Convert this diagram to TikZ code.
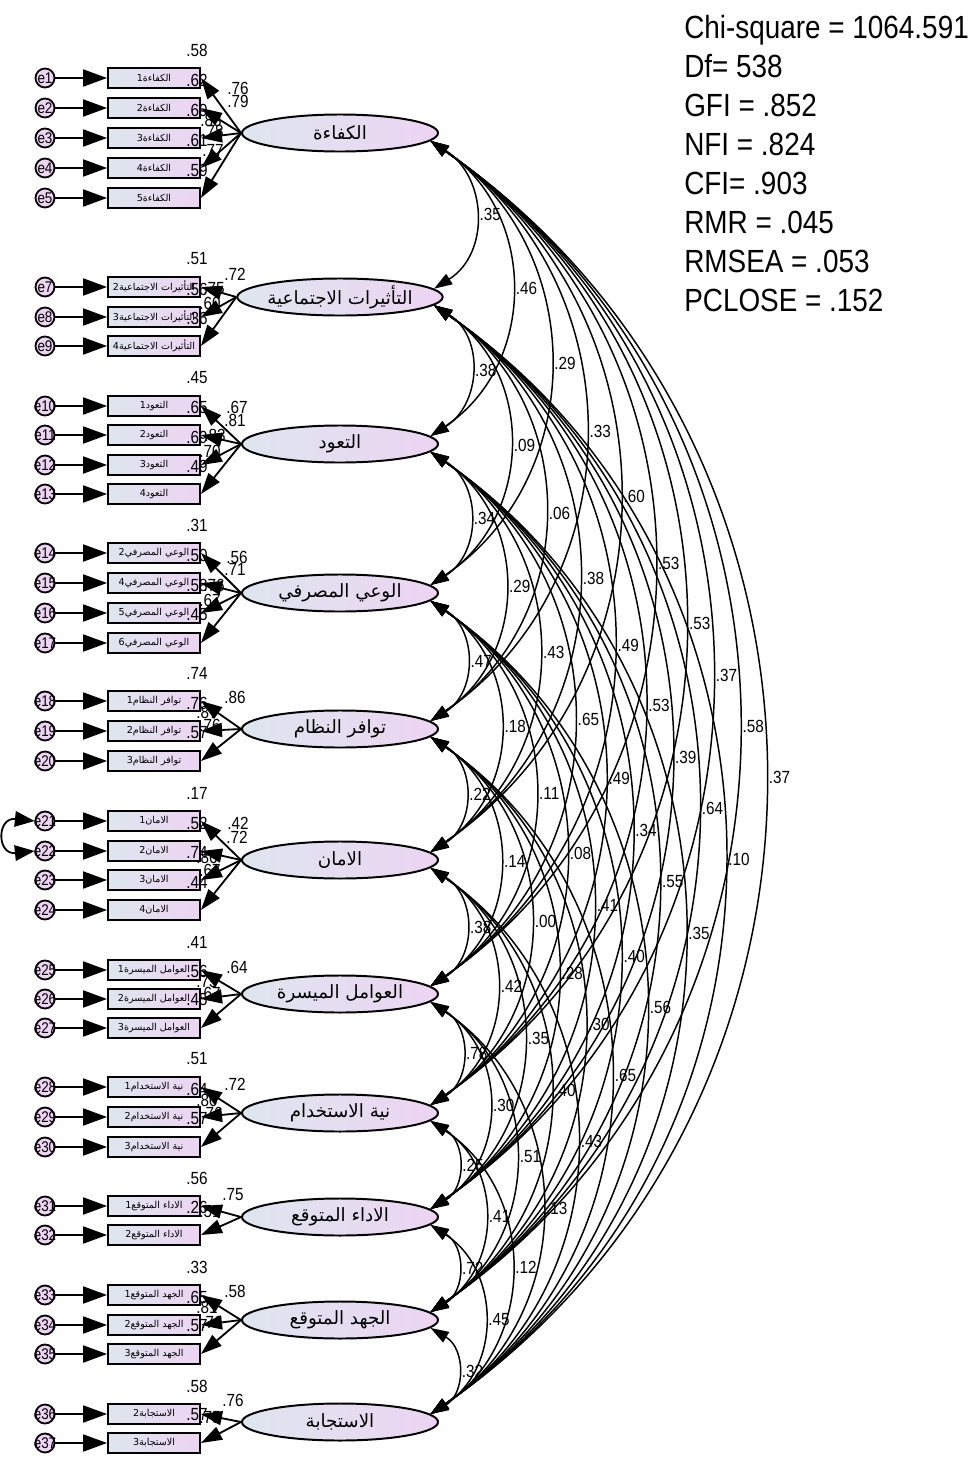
\documentclass[tikz,border=0pt]{standalone}
\usepackage{fontspec}
\setmainfont{Liberation Sans}
\newfontfamily\arabicfont[Script=Arabic]{DejaVu Sans}
\newfontfamily\amosfont[FakeStretch=0.87]{Liberation Sans}
\TeXXeTstate=1
\usetikzlibrary{arrows.meta,shapes.geometric}
\definecolor{lavL}{RGB}{222,230,238}
\definecolor{lavR}{RGB}{236,212,242}
\tikzset{
 lat/.style={ellipse, draw, line width=1.4pt, minimum width=4.9cm, minimum height=0.925cm, inner sep=0pt, left color=lavL, right color=lavR, font=\arabicfont\fontsize{13}{15}\selectfont},
 obs/.style={rectangle, draw, line width=1.3pt, minimum width=2.3cm, minimum height=0.5cm, inner sep=0pt, left color=lavL, right color=lavR, font=\arabicfont\fontsize{6.8}{8}\selectfont},
 err/.style={circle, draw, line width=1.3pt, minimum size=0.475cm, inner sep=0pt, fill=lavR, font=\amosfont\fontsize{11}{12}\selectfont},
 num/.style={font=\amosfont\fontsize{12.5}{13}\selectfont, inner sep=0pt},
 clab/.style={num, anchor=west, xshift=3pt},
 stat/.style={font=\amosfont\fontsize{22.8}{26}\selectfont, inner sep=0pt, anchor=base west},
 earr/.style={line width=1.5pt, -{Triangle[length=17pt,width=12pt]}},
 load/.style={line width=1.3pt, -{Triangle[length=15pt,width=10pt]}},
 cov/.style={line width=1.05pt, {Triangle[length=13pt,width=8.5pt]}-{Triangle[length=13pt,width=8.5pt]}},
 ecov/.style={line width=1.3pt, {Triangle[length=14pt,width=11pt]}-{Triangle[length=14pt,width=11pt]}},
}
\newcommand\mklat[3]{\node[lat] (L#1) at (340,#2) {#3};}
\newcommand\mkind[5]{%
  \node[err] (e#1) at (45,#2) {\makebox[0pt]{e#1}};
  \node[obs] (b#1) at (154,#2) {#3};
  \node[num] (r#1) at (197,#2-28) {#4};
  \draw[earr] (e#1) -- (b#1);
  \draw[load] (L#5.west) -- (b#1.east);
}
\begin{document}
\begin{tikzpicture}[x=0.025cm,y=-0.025cm]
\useasboundingbox (0,0) rectangle (977,1461);
% latent variables
\mklat{1}{133}{\beginR الكفاءة\endR}
\mklat{2}{297}{\beginR التأثيرات الاجتماعية\endR}
\mklat{3}{444}{\beginR التعود\endR}
\mklat{4}{593}{\beginR الوعي المصرفي\endR}
\mklat{5}{729}{\beginR توافر النظام\endR}
\mklat{6}{860}{\beginR الامان\endR}
\mklat{7}{994}{\beginR العوامل الميسرة\endR}
\mklat{8}{1113}{\beginR نية الاستخدام\endR}
\mklat{9}{1217}{\beginR الاداء المتوقع\endR}
\mklat{10}{1320}{\beginR الجهد المتوقع\endR}
\mklat{11}{1422}{\beginR الاستجابة\endR}
% indicators
\mkind{1}{78}{\beginR الكفاءة1\endR}{.58}{1}
\mkind{2}{108}{\beginR الكفاءة2\endR}{.62}{1}
\mkind{3}{138}{\beginR الكفاءة3\endR}{.69}{1}
\mkind{4}{168}{\beginR الكفاءة4\endR}{.61}{1}
\mkind{5}{198}{\beginR الكفاءة5\endR}{.59}{1}
\mkind{7}{287}{\beginR التأثيرات الاجتماعية2\endR}{.51}{2}
\mkind{8}{317}{\beginR التأثيرات الاجتماعية3\endR}{.56}{2}
\mkind{9}{346}{\beginR التأثيرات الاجتماعية4\endR}{.36}{2}
\mkind{10}{406}{\beginR التعود1\endR}{.45}{3}
\mkind{11}{435}{\beginR التعود2\endR}{.65}{3}
\mkind{12}{465}{\beginR التعود3\endR}{.69}{3}
\mkind{13}{494}{\beginR التعود4\endR}{.49}{3}
\mkind{14}{553}{\beginR الوعي المصرفي2\endR}{.31}{4}
\mkind{15}{583}{\beginR الوعي المصرفي4\endR}{.50}{4}
\mkind{16}{613}{\beginR الوعي المصرفي5\endR}{.58}{4}
\mkind{17}{643}{\beginR الوعي المصرفي6\endR}{.45}{4}
\mkind{18}{701}{\beginR توافر النظام1\endR}{.74}{5}
\mkind{19}{731}{\beginR توافر النظام2\endR}{.76}{5}
\mkind{20}{761}{\beginR توافر النظام3\endR}{.57}{5}
\mkind{21}{821}{\beginR الامان1\endR}{.17}{6}
\mkind{22}{851}{\beginR الامان2\endR}{.52}{6}
\mkind{23}{880}{\beginR الامان3\endR}{.74}{6}
\mkind{24}{910}{\beginR الامان4\endR}{.44}{6}
\mkind{25}{970}{\beginR العوامل الميسرة1\endR}{.41}{7}
\mkind{26}{999}{\beginR العوامل الميسرة2\endR}{.56}{7}
\mkind{27}{1028}{\beginR العوامل الميسرة3\endR}{.45}{7}
\mkind{28}{1087}{\beginR نية الاستخدام1\endR}{.51}{8}
\mkind{29}{1117}{\beginR نية الاستخدام2\endR}{.64}{8}
\mkind{30}{1147}{\beginR نية الاستخدام3\endR}{.57}{8}
\mkind{31}{1206}{\beginR الاداء المتوقع1\endR}{.56}{9}
\mkind{32}{1235}{\beginR الاداء المتوقع2\endR}{.26}{9}
\mkind{33}{1295}{\beginR الجهد المتوقع1\endR}{.33}{10}
\mkind{34}{1325}{\beginR الجهد المتوقع2\endR}{.65}{10}
\mkind{35}{1354}{\beginR الجهد المتوقع3\endR}{.57}{10}
\mkind{36}{1414}{\beginR الاستجابة2\endR}{.58}{11}
\mkind{37}{1443}{\beginR الاستجابة3\endR}{.57}{11}
% loading labels
\node[num] (ld1) at (238,88) {.76};
\node[num] (ld2) at (238,101) {.79};
\node[num] (ld3) at (211,120) {.83};
\node[num] (ld4) at (213,131) {.78};
\node[num] (ld5) at (213,150) {.77};
\node[num] (ld7) at (235,274) {.72};
\node[num] (ld8) at (214,289) {.75};
\node[num] (ld9) at (210,303) {.60};
\node[num] (ld10) at (237,407) {.67};
\node[num] (ld11) at (235,420) {.81};
\node[num] (ld12) at (215,435) {.83};
\node[num] (ld13) at (210,451) {.70};
\node[num] (ld14) at (237,557) {.56};
\node[num] (ld15) at (235,569) {.71};
\node[num] (ld16) at (214,585) {.76};
\node[num] (ld17) at (210,600) {.67};
\node[num] (ld18) at (235,697) {.86};
\node[num] (ld19) at (207,712) {.87};
\node[num] (ld20) at (210,725) {.76};
\node[num] (ld21) at (238,823) {.42};
\node[num] (ld22) at (237,837) {.72};
\node[num] (ld23) at (207,857) {.86};
\node[num] (ld24) at (210,870) {.67};
\node[num] (ld25) at (237,967) {.64};
\node[num] (ld26) at (207,982) {.75};
\node[num] (ld27) at (210,993) {.67};
\node[num] (ld28) at (235,1084) {.72};
\node[num] (ld29) at (207,1100) {.80};
\node[num] (ld30) at (212,1113) {.76};
\node[num] (ld31) at (233,1195) {.75};
\node[num] (ld32) at (210,1212) {.51};
\node[num] (ld33) at (235,1291) {.58};
\node[num] (ld34) at (207,1307) {.81};
\node[num] (ld35) at (212,1322) {.76};
\node[num] (ld36) at (233,1400) {.76};
\node[num] (ld37) at (210,1418) {.75};
% error covariance e21-e22
\draw[ecov] (e21.west) .. controls +(-38,-4) and +(-38,4) .. (e22.west);
% factor correlations
\foreach \i/\j/\v in {1/2/.35, 1/3/.46, 1/4/.29, 1/5/.33, 1/6/.60, 1/7/.53, 1/8/.53, 1/9/.37, 1/10/.58, 1/11/.37,
 2/3/.38, 2/4/.09, 2/5/.06, 2/6/.38, 2/7/.49, 2/8/.53, 2/9/.39, 2/10/.64, 2/11/.10,
 3/4/.34, 3/5/.29, 3/6/.43, 3/7/.65, 3/8/.49, 3/9/.34, 3/10/.55, 3/11/.35,
 4/5/.47, 4/6/.18, 4/7/.11, 4/8/.08, 4/9/.41, 4/10/.40, 4/11/.56,
 5/6/.22, 5/7/.14, 5/8/.00, 5/9/.28, 5/10/.30, 5/11/.65,
 6/7/.38, 6/8/.42, 6/9/.35, 6/10/.40, 6/11/.43,
 7/8/.78, 7/9/.30, 7/10/.51, 7/11/.13,
 8/9/.25, 8/10/.41, 8/11/.12,
 9/10/.72, 9/11/.45,
 10/11/.32}{
  \pgfmathsetmacro\ya{{133,297,444,593,729,860,994,1113,1217,1320,1422}[\i-1]}
  \pgfmathsetmacro\yb{{133,297,444,593,729,860,994,1113,1217,1320,1422}[\j-1]}
  \pgfmathsetmacro\hh{0.345*(\yb-\ya)}
  \pgfmathsetmacro\vv{0.242*(\yb-\ya-16)}
  \draw[cov] (L\i.-5) .. controls +(\hh,\vv) and +(\hh,-\vv) .. (L\j.5) node[clab,pos=0.5] (c\i-\j) {\v};
}
% fit statistics
\node[stat] (s1) at (684,38.5) {Chi-square = 1064.591};
\node[stat] (s2) at (684,77.5) {Df= 538};
\node[stat] (s3) at (684,116.5) {GFI = .852};
\node[stat] (s4) at (684,155.5) {NFI = .824};
\node[stat] (s5) at (684,194.5) {CFI= .903};
\node[stat] (s6) at (684,233.5) {RMR = .045};
\node[stat] (s7) at (684,272.5) {RMSEA = .053};
\node[stat] (s8) at (684,311.5) {PCLOSE = .152};
\end{tikzpicture}
\end{document}
